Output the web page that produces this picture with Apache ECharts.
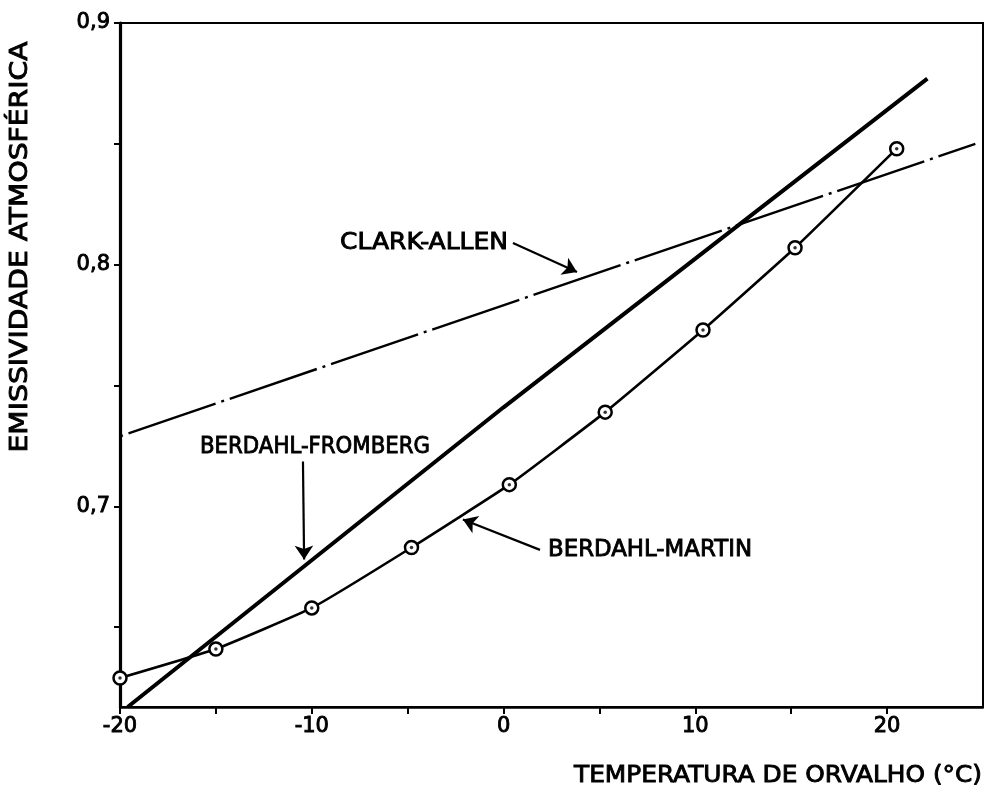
<!DOCTYPE html>
<html>
<head>
<meta charset="utf-8">
<script src="https://cdn.jsdelivr.net/npm/echarts@6/dist/echarts.min.js"></script>
<style>
html,body{margin:0;padding:0;background:#fff;}
#chart{width:984px;height:796px;}
</style>
</head>
<body>
<div id="chart"></div>
<script>
// ---- data ----
const xTicks = [-20, -15, -10, -5, 0, 5, 10, 15, 20];
const xLabels = [-20, -10, 0, 10, 20];
const yTicks = [0.65, 0.7, 0.75, 0.8, 0.85, 0.9];
const yLabels = [0.7, 0.8, 0.9];

const martinT = [-20, -15, -10, -4.8, 0.3, 5.3, 10.4, 15.2, 20.5];
const martinE = [0.629, 0.641, 0.658, 0.683, 0.709, 0.739, 0.773, 0.807, 0.848];

const frombergT = [-19.6, 0, 22.1];
const frombergE = [0.617, 0.741, 0.877];

const clarkT = [-20, 24.6];
const clarkE = [0.729, 0.850];

const labelNames = ['CLARK-ALLEN', 'BERDAHL-FROMBERG', 'BERDAHL-MARTIN'];
const xTitle = 'TEMPERATURA DE ORVALHO (°C)';
const yTitle = 'EMISSIVIDADE ATMOSFÉRICA';

// annotation arrows (start -> tip), in data units
const arrowFrom = [[0.49, 0.809], [-10.46, 0.7186], [1.9, 0.682]];
const arrowTo = [[3.83, 0.797], [-10.4, 0.678], [-2.12, 0.6946]];

// ---- build ----
const zip = (a, b) => a.map((v, i) => [v, b[i]]);
const FONT = '"DejaVu Sans", sans-serif';

const ctx = document.createElement('canvas').getContext('2d');
function measure(text, font) {
  ctx.font = font;
  return ctx.measureText(text).width;
}
function textEl(text, size, x, y, width, align, rotation) {
  const font = size + 'px ' + FONT;
  const w = measure(text, font);
  return {
    type: 'text',
    x: x, y: y,
    rotation: rotation || 0,
    scaleX: width / w,
    silent: true,
    style: {
      text: text, x: 0, y: 0,
      font: font,
      fill: '#000',
      stroke: '#000',
      lineWidth: 0.9,
      align: align || 'left',
      verticalAlign: 'middle'
    }
  };
}

const chart = echarts.init(document.getElementById('chart'), null, {renderer: 'canvas'});

const tickLabelStyle = {
  color: '#000', fontFamily: FONT, fontSize: 21,
  textBorderColor: '#000', textBorderWidth: 0.9
};

const option = {
  animation: false,
  backgroundColor: '#fff',
  grid: {left: 120, right: 1, top: 23, bottom: 89, show: true, borderColor: '#000', borderWidth: 2},
  xAxis: {
    type: 'value', min: -20, max: 25,
    axisLine: {onZero: false, lineStyle: {color: '#000', width: 2.5}},
    axisTick: {show: true, customValues: xTicks, length: 7, lineStyle: {color: '#000', width: 2}},
    axisLabel: Object.assign({customValues: xLabels, margin: 9}, tickLabelStyle),
    splitLine: {show: false}
  },
  yAxis: {
    type: 'value', min: 0.617, max: 0.9,
    axisLine: {onZero: false, lineStyle: {color: '#000', width: 3.2}},
    axisTick: {show: true, customValues: yTicks, length: 6, lineStyle: {color: '#000', width: 2}},
    axisLabel: Object.assign({customValues: yLabels, margin: 10, padding: [7, 0, 0, 0],
      formatter: v => v.toFixed(1).replace('.', ',')}, tickLabelStyle),
    splitLine: {show: false}
  },
  series: [
    {
      name: 'Clark-Allen', type: 'line', data: zip(clarkT, clarkE),
      symbol: 'none', silent: true,
      lineStyle: {color: '#000', width: 2.4, type: [3, 6, 92, 6]}
    },
    {
      name: 'Berdahl-Fromberg', type: 'line', data: zip(frombergT, frombergE),
      symbol: 'none', silent: true,
      lineStyle: {color: '#000', width: 4},
      markLine: {
        silent: true, symbol: ['none', 'arrow'], symbolSize: 14, precision: 4,
        label: {show: false},
        lineStyle: {color: '#000', width: 2.2, type: 'solid'},
        emphasis: {disabled: true},
        data: arrowFrom.map((p, i) => [{coord: p}, {coord: arrowTo[i]}])
      }
    },
    {
      name: 'Berdahl-Martin', type: 'line', data: zip(martinT, martinE),
      smooth: 0.12, symbol: 'circle', symbolSize: 13, showAllSymbol: true, silent: true,
      lineStyle: {color: '#000', width: 2.6},
      itemStyle: {color: '#fff', borderColor: '#000', borderWidth: 2.5},
      z: 3
    },
    {
      name: 'Berdahl-Martin dots', type: 'scatter', data: zip(martinT, martinE),
      symbol: 'circle', symbolSize: 3.5, silent: true,
      itemStyle: {color: '#000'}, z: 4
    }
  ],
  graphic: [
    textEl(labelNames[0], 23, 340, 243, 168),
    textEl(labelNames[1], 23, 200, 447, 230),
    textEl(labelNames[2], 23, 548, 550, 204),
    textEl(xTitle, 23, 574, 776, 408),
    textEl(yTitle, 24, 21, 247, 411, 'center', Math.PI / 2)
  ]
};
chart.setOption(option);
</script>
</body>
</html>
